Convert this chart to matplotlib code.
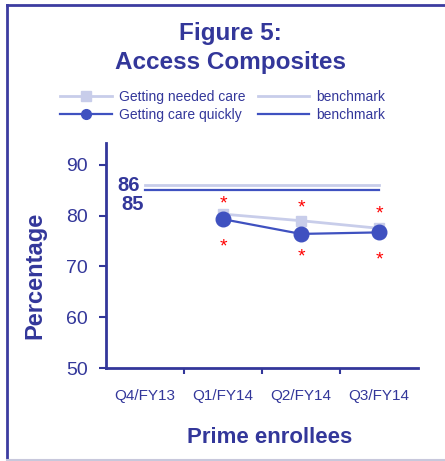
import matplotlib.pyplot as plt
from matplotlib.lines import Line2D

plt.rcParams['font.family'] = ['Liberation Sans', 'DejaVu Sans']

quarters = ['Q4/FY13', 'Q1/FY14', 'Q2/FY14', 'Q3/FY14']
x_pos = [0, 1, 2, 3]
needed_x = [1, 2, 3]
needed_vals = [80.3, 79.0, 77.5]
quickly_x = [1, 2, 3]
quickly_vals = [79.3, 76.4, 76.7]
bench_needed = 86
bench_quickly = 85
star_x = [1, 1, 2, 2, 3, 3]
star_y = [82.3, 73.8, 81.6, 71.8, 80.3, 71.3]
yticks = [50, 60, 70, 80, 90]

navy = '#33379A'
dark_line = '#3F51C0'
light_line = '#C8CDEA'

fig = plt.figure(figsize=(4.45, 4.61), dpi=100)
ax = fig.add_axes([106 / 445, 1 - 368 / 461, 312 / 445, 225 / 461])

ax.plot([x_pos[0], x_pos[-1]], [bench_needed, bench_needed], color=light_line, lw=2)
ax.plot([x_pos[0], x_pos[-1]], [bench_quickly, bench_quickly], color=dark_line, lw=1.6)
ax.plot(needed_x, needed_vals, color=light_line, lw=2, marker='s', ms=7, zorder=3)
ax.plot(quickly_x, quickly_vals, color=dark_line, lw=1.6, marker='o', ms=10.5, zorder=4)

for sx, sy in zip(star_x, star_y):
    ax.text(sx, sy, '*', color='red', fontsize=14, ha='center', va='center')

ax.text(x_pos[0] - 0.07, bench_needed - 0.1, str(bench_needed), color=navy, fontsize=14.5,
        fontweight='bold', ha='right', va='center')
ax.text(x_pos[0] - 0.01, bench_quickly - 2.9, str(bench_quickly), color=navy, fontsize=14.5,
        fontweight='bold', ha='right', va='center')

ax.set_xlim(-0.5, 3.5)
ax.set_ylim(50, 94.3)
ax.set_yticks(yticks)
ax.set_xticks([0.5, 1.5, 2.5], minor=False)
ax.set_xticklabels([])
ax.set_xticks(x_pos, minor=True)
ax.set_xticklabels(quarters, minor=True)
ax.tick_params(axis='x', which='major', length=4, width=1.5, color=navy, direction='out')
ax.tick_params(axis='x', which='minor', length=0, labelsize=11, labelcolor=navy, pad=15)
ax.tick_params(axis='y', length=5, width=1.5, color=navy, labelsize=14, labelcolor=navy, pad=8)

for side in ['top', 'right']:
    ax.spines[side].set_visible(False)
for side in ['left', 'bottom']:
    ax.spines[side].set_color(navy)
    ax.spines[side].set_linewidth(2)

ax.set_ylabel('Percentage', color=navy, fontsize=17, fontweight='bold')
ax.yaxis.set_label_coords(-0.19, 0.413)
ax.set_xlabel('Prime enrollees', color=navy, fontsize=16, fontweight='bold')
ax.xaxis.set_label_coords(0.526, -0.26)

fig.text(0.517, 1 - 33 / 461, 'Figure 5:', color=navy, fontsize=17.5, fontweight='bold',
         ha='center', va='center')
fig.text(0.517, 1 - 63 / 461, 'Access Composites', color=navy, fontsize=17.5, fontweight='bold',
         ha='center', va='center')

handles = [
    Line2D([], [], color=light_line, lw=2, marker='s', ms=7),
    Line2D([], [], color=dark_line, lw=1.6, marker='o', ms=7),
    Line2D([], [], color=light_line, lw=2),
    Line2D([], [], color=dark_line, lw=1.6),
]
labels = ['Getting needed care', 'Getting care quickly', 'benchmark', 'benchmark']
leg = fig.legend(handles, labels, ncol=2, loc='center', bbox_to_anchor=(0.5, 1 - 106 / 461),
                 frameon=False, fontsize=10, handlelength=3.7, handletextpad=0.5,
                 columnspacing=0.9, labelspacing=0.3)
for t in leg.get_texts():
    t.set_color(navy)

# border around the figure
fig.add_artist(Line2D([7 / 445, 7 / 445], [1 - 459 / 461, 1 - 5 / 461], color='#3C3CA0', lw=2,
                      transform=fig.transFigure))
fig.add_artist(Line2D([7 / 445, 1], [1 - 5 / 461, 1 - 5 / 461], color='#3C3CA0', lw=2,
                      transform=fig.transFigure))
fig.add_artist(Line2D([7 / 445, 1], [1 - 460 / 461, 1 - 460 / 461], color='#C8C8DC', lw=1.5,
                      transform=fig.transFigure))

fig.savefig('out.png', dpi=100)
